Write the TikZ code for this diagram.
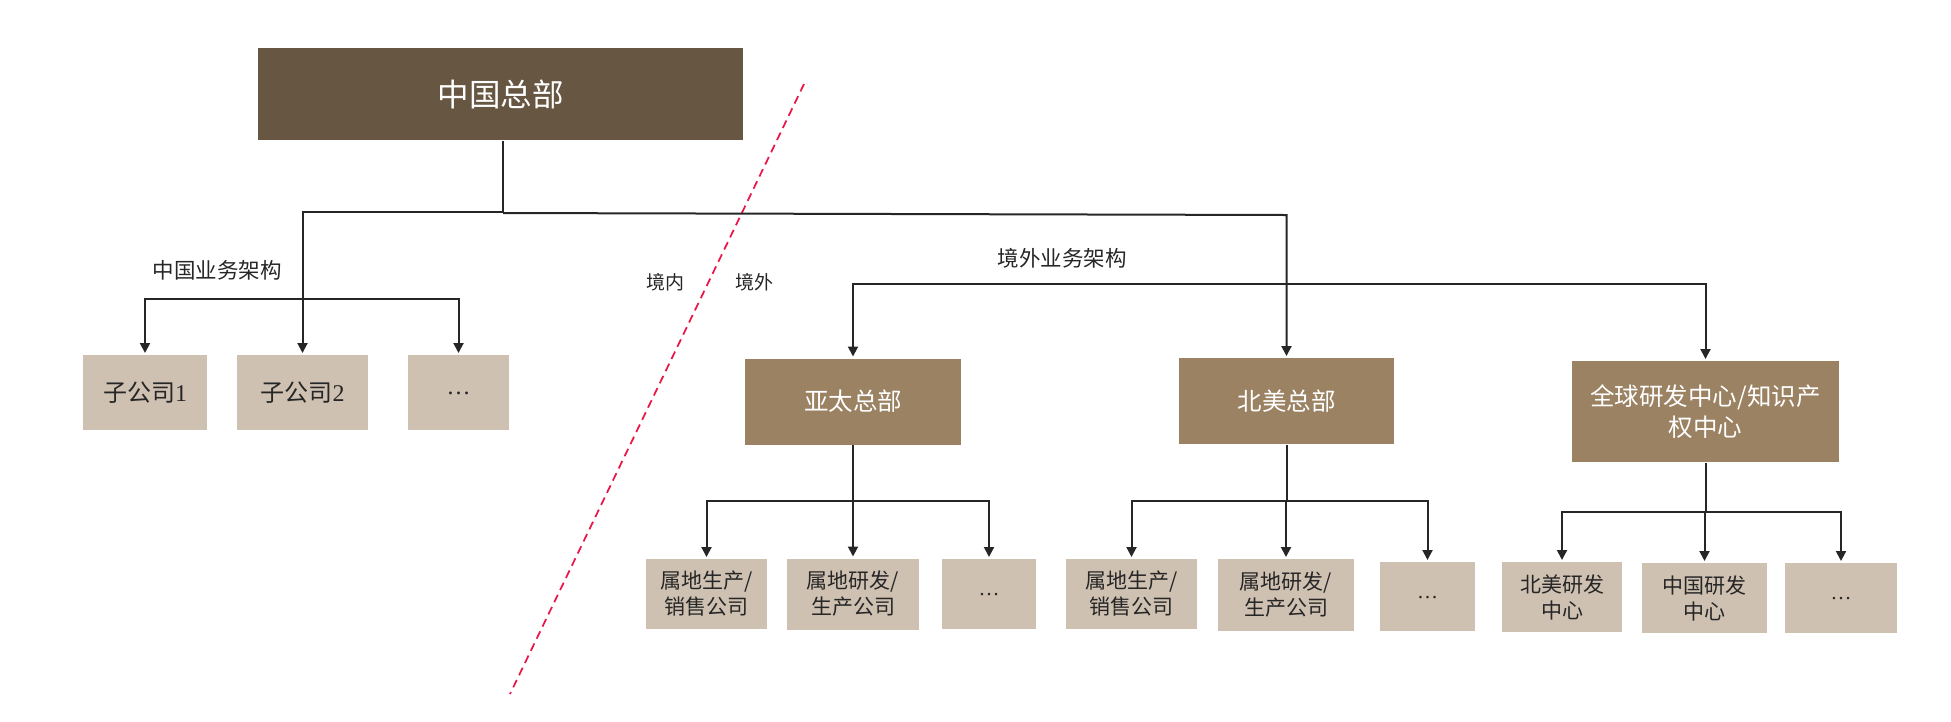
\documentclass[tikz,border=0pt]{standalone}
\usepackage{fontspec}
\setmainfont{Liberation Serif}
\newfontfamily\cjk{Noto Sans CJK SC}
\usetikzlibrary{arrows.meta}
\definecolor{hqc}{RGB}{103,86,66}
\definecolor{lvtwoc}{RGB}{155,130,99}
\definecolor{lvthreec}{RGB}{207,193,178}
\definecolor{txtc}{RGB}{38,38,38}
\definecolor{linec}{RGB}{38,38,40}
\definecolor{redc}{RGB}{235,22,72}
\tikzset{
  box/.style={draw=none, inner sep=0pt, align=center},
  wh/.style 2 args={minimum width=#1*0.4pt, minimum height=#2*0.4pt},
  hqbox/.style={box, fill=hqc, text=white, font=\cjk\fontsize{12.6}{15}\selectfont},
  lvtwo/.style={box, fill=lvtwoc, text=white, font=\cjk\fontsize{9.8}{12.4}\selectfont},
  lvthree/.style={box, fill=lvthreec, text=txtc, font=\cjk\fontsize{8.4}{10.4}\selectfont},
  subco/.style={lvthree, font=\cjk\fontsize{9.6}{11}\selectfont},
  ln/.style={draw=linec, line width=0.8pt},
  arr/.style={ln, -{Triangle[length=4pt,width=4pt]}, shorten >=0.6pt},
  lbl/.style={text=txtc, inner sep=0pt, font=\cjk\fontsize{8.6}{10}\selectfont},
  lblsmall/.style={text=txtc, inner sep=0pt, font=\cjk\fontsize{7.6}{9}\selectfont},
  divider/.style={draw=redc, line width=0.7pt, dash pattern=on 3.3pt off 2.1pt},
}
\begin{document}
\begin{tikzpicture}[x=0.4pt,y=-0.4pt]
\useasboundingbox (0,0) rectangle (1951,721);
% headquarters
\node[hqbox, wh={485}{92}] (hq) at (500.5,94) {中国总部};
% China subsidiaries
\node[subco, wh={124}{75}] (s1) at (145,392.5) {子公司{\rmfamily 1}};
\node[subco, wh={131}{75}] (s2) at (302.5,392.5) {子公司{\rmfamily 2}};
\node[subco, wh={101}{75}] (s3) at (458.5,392.5) {\raisebox{-1.5pt}{\rmfamily …}};
% regional headquarters
\node[lvtwo, wh={216}{86}] (ap) at (853,401.5) {亚太总部};
\node[lvtwo, wh={215}{86}] (na) at (1286.5,401) {北美总部};
\node[lvtwo, wh={267}{101}] (gr) at (1705.5,411.5) {全球研发中心/知识产\\权中心};
% Asia-Pacific children
\node[lvthree, wh={121}{70}] (ap1) at (706.5,594) {属地生产/\\销售公司};
\node[lvthree, wh={132}{71}] (ap2) at (853,594) {属地研发/\\生产公司};
\node[lvthree, wh={94}{70}] (ap3) at (989,594) {\raisebox{-1.5pt}{\rmfamily …}};
% North America children
\node[lvthree, wh={131}{70}] (na1) at (1131.5,594) {属地生产/\\销售公司};
\node[lvthree, wh={136}{72}] (na2) at (1286,595) {属地研发/\\生产公司};
\node[lvthree, wh={95}{69}] (na3) at (1427.5,596.5) {\raisebox{-1.5pt}{\rmfamily …}};
% R&D children
\node[lvthree, wh={120}{70}] (gr1) at (1562,597) {北美研发\\中心};
\node[lvthree, wh={125}{70}] (gr2) at (1704.5,598) {中国研发\\中心};
\node[lvthree, wh={112}{70}] (gr3) at (1841,598) {\raisebox{-1.5pt}{\rmfamily …}};
% labels
\node[lbl] (lcn) at (217,270) {中国业务架构};
\node[lbl] (los) at (1062,258) {境外业务架构};
\node[lblsmall] (lin) at (665,282) {境内};
\node[lblsmall] (lout) at (754,282) {境外};
% divider
\coordinate (d1) at (804,84);
\coordinate (d2) at (510,694);
\draw[divider] (d1) -- (d2);
% connectors: headquarters
\coordinate (j0) at (503,212);
\coordinate (jr0) at (503,213);
\coordinate (jr) at (1286.5,215);
\draw[ln] (hq.south -| j0) -- (j0);
\draw[arr] (j0) -| (s2.north);
\coordinate (cb) at (302.5,299);
\draw[arr] (cb) -| (s1.north);
\draw[arr] (cb) -| (s3.north);
\draw[arr] (jr0) -- (jr) -- (na.north);
\coordinate (ob) at (1286.5,284);
\draw[arr] (ob) -| (ap.north);
\draw[arr] (ob) -| (gr.north);
% connectors: Asia-Pacific
\coordinate (apb) at (853,501);
\draw[ln] (ap.south) -- (apb);
\draw[arr] (apb) -- (ap2.north);
\draw[arr] (apb) -| (ap1.north);
\draw[arr] (apb) -| (ap3.north);
% connectors: North America
\coordinate (nab) at (1286.5,501);
\draw[ln] (na.south) -- (nab);
\draw[arr] (nab) -| (na2.north);
\draw[arr] (nab) -| (na1.north);
\draw[arr] (nab) -| (na3.north);
% connectors: R&D
\coordinate (grb) at (1705.5,512);
\draw[ln] (gr.south) -- (grb);
\draw[arr] (grb) -| (gr2.north);
\draw[arr] (grb) -| (gr1.north);
\draw[arr] (grb) -| (gr3.north);
\end{tikzpicture}
\end{document}
